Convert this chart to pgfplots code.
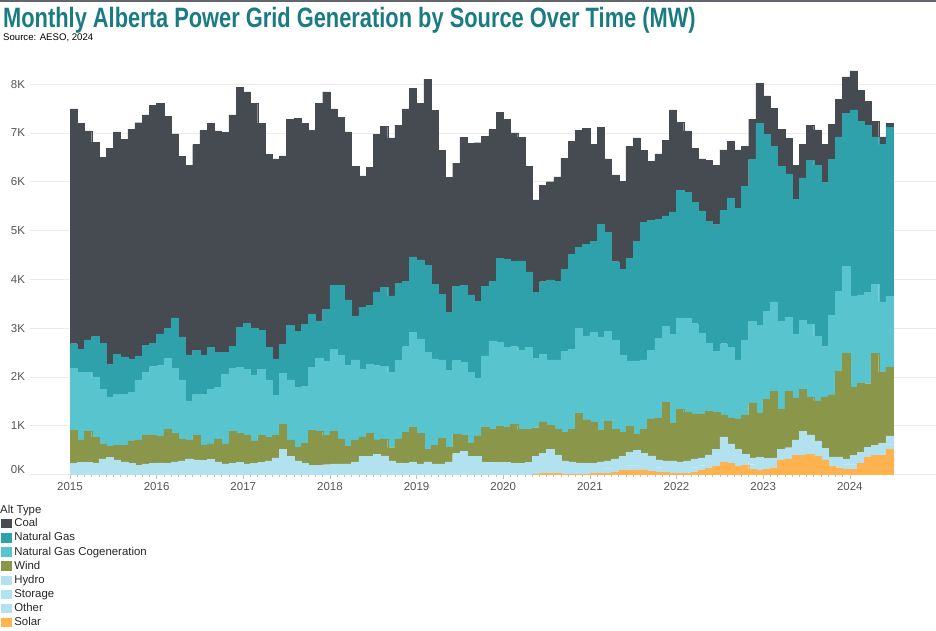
\documentclass[border=0pt]{standalone}
\usepackage{fontspec}
\setmainfont{Liberation Sans}
\newfontfamily\titlefont[FakeStretch=0.78]{Liberation Sans}
\usepackage{pgfplots}
\usepackage{pgfplotstable}
\pgfplotsset{compat=1.18}

\definecolor{coal}{HTML}{464A51}
\definecolor{ng}{HTML}{2EA1AB}
\definecolor{cogen}{HTML}{58C4CE}
\definecolor{wind}{HTML}{8A9649}
\definecolor{hydro}{HTML}{B2E2EF}
\definecolor{solar}{HTML}{FFB24E}
\definecolor{titlecol}{HTML}{1A7B83}
\definecolor{tickgray}{HTML}{555555}
\definecolor{gridgray}{HTML}{EBEBEB}

% month index (0 = Jan 2015), values in MW
\pgfplotstableread{
m solar other storage hydro wind cogen ng coal
0 0 80 0 150 680 1270 500 4810
1 0 80 0 170 460 1380 480 4630
2 0 80 0 170 640 1210 660 4280
3 0 80 0 150 530 1240 830 3980
4 0 80 0 240 310 1120 940 3810
5 0 80 0 270 230 1010 660 4430
6 0 80 0 220 300 1040 820 4560
7 0 80 0 180 340 1040 770 4460
8 0 80 0 150 460 1000 680 4710
9 0 80 0 110 520 1230 490 4780
10 0 80 0 140 580 1300 550 4720
11 0 80 0 150 580 1400 480 4880
12 0 80 0 160 550 1440 650 4720
13 0 80 0 150 700 1450 610 4350
14 0 80 0 180 580 1340 1030 3770
15 0 80 0 200 450 1210 880 3700
16 0 80 0 240 390 800 940 3890
17 0 80 0 220 500 840 910 4210
18 0 80 0 210 310 1040 810 4600
19 0 80 0 230 320 1120 860 4590
20 0 80 0 180 470 1060 710 4540
21 0 80 0 140 410 1430 440 4510
22 0 80 0 150 660 1290 450 4740
23 0 80 0 170 600 1350 820 4910
24 0 80 0 140 590 1340 950 4740
25 0 80 0 150 460 1350 950 4620
26 0 80 0 170 550 1360 800 4240
27 0 80 0 200 480 1180 670 3950
28 0 80 0 260 460 820 750 4100
29 0 80 0 440 510 1050 590 3860
30 0 80 0 290 340 1230 1120 4220
31 0 80 0 200 280 1230 1150 4360
32 0 80 0 150 410 1170 1270 4120
33 0 80 0 110 720 1290 1090 3760
34 0 80 0 110 690 1510 760 4460
35 0 80 0 120 600 1530 1060 4450
36 0 80 0 140 670 1680 1310 3610
37 0 80 0 140 510 1720 1430 3440
38 0 80 0 140 360 1660 1340 3440
39 0 80 0 180 440 1650 900 3060
40 0 80 0 290 400 1380 1280 2690
41 0 80 0 290 470 1420 1210 2830
42 0 80 0 340 290 1520 1510 3230
43 0 80 0 300 350 1490 1620 3290
44 0 80 0 200 270 1540 1570 3240
45 0 80 0 160 490 1610 1580 3240
46 0 80 0 150 640 1750 1340 3530
47 0 80 0 180 710 1940 1550 3450
48 0 80 0 140 630 1930 1620 3210
49 0 80 0 180 260 1990 1780 3810
50 0 80 0 140 380 1770 1530 3560
51 0 80 0 140 520 1610 1340 2950
52 0 80 0 180 300 1570 1200 2760
53 0 80 0 350 400 1510 1520 2520
54 0 80 0 400 320 1510 1570 3030
55 0 80 0 290 280 1450 1580 3110
56 0 80 0 290 420 1190 1570 3250
57 0 80 0 180 710 1460 1430 3070
58 0 80 0 170 670 1820 1220 3110
59 0 80 0 170 740 1720 1720 2990
60 0 80 10 160 720 1640 1800 2870
61 0 80 10 140 800 1590 1750 2630
62 0 80 10 140 690 1620 1840 2530
63 0 80 10 160 670 1690 1540 2170
64 10 80 10 270 590 1420 1350 1900
65 20 80 10 330 640 1380 1490 1980
66 20 80 10 410 490 1340 1640 2010
67 20 80 10 290 520 1430 1610 2140
68 10 80 10 180 580 1670 1680 2270
69 10 80 10 160 660 1650 1940 2320
70 10 80 10 140 1020 1740 1660 2390
71 10 80 10 130 890 1720 1880 2370
72 20 80 10 120 850 1830 1870 1990
73 20 80 10 150 650 1910 2310 1980
74 30 80 10 160 820 1840 2020 1510
75 40 80 10 190 610 1830 1600 1780
76 80 80 10 200 500 1580 1760 1800
77 90 80 10 280 530 1340 2100 2300
78 90 80 10 320 330 1500 2450 2120
79 80 80 10 260 490 1430 2820 1470
80 60 80 10 230 760 1410 2660 1210
81 50 80 10 160 860 1630 2440 1340
82 40 80 10 150 1210 1550 2260 1550
83 20 80 10 170 770 1820 2510 2090
84 20 80 10 150 1080 1870 2610 1400
85 20 80 10 170 1000 1920 2580 1260
86 50 80 10 180 920 1850 2490 1110
87 90 80 10 160 900 1660 2500 1070
88 130 80 10 180 900 1390 2500 1250
89 170 80 10 260 760 1250 2590 1220
90 260 80 10 420 450 1460 2730 1240
91 230 80 10 310 530 1450 3060 1160
92 170 80 10 260 620 1210 3100 1200
93 190 80 10 130 810 1540 3140 820
94 110 80 10 140 1130 1670 3320 820
95 80 80 10 180 910 1800 4140 820
96 100 80 10 140 1210 1810 3620 790
97 140 80 10 110 1370 1830 3190 780
98 300 80 10 130 820 1800 3170 770
99 320 80 10 140 1160 1510 2940 730
100 390 80 10 230 860 1300 2770 700
101 400 80 10 400 860 1410 2920 690
102 410 80 10 310 780 1490 3360 710
103 370 80 10 230 820 1320 3510 720
104 300 80 10 150 1050 1030 3360 780
105 170 80 10 100 1270 1640 3190 710
106 140 80 10 130 1760 1630 3170 770
107 110 80 10 120 2170 1780 3130 750
108 110 80 10 190 1400 1870 3810 800
109 230 80 10 130 1420 1810 3560 630
110 350 80 10 120 1300 1870 3430 490
111 390 80 10 120 1880 1420 3020 320
112 390 80 10 170 1440 1450 3220 160
113 520 80 10 180 1410 1450 3470 80
}\gendata

\begin{document}
\begin{tikzpicture}
\useasboundingbox (0pt,0pt) rectangle (936pt,630pt);
\draw[color=coal!85, line width=1.5pt] (0pt,629.2pt) -- (936pt,629.2pt);
\node[anchor=base west, inner sep=0pt, text=titlecol, font=\titlefont\bfseries\fontsize{28}{30}\selectfont] at (3pt,602pt) {Monthly Alberta Power Grid Generation by Source Over Time (MW)};
\node[anchor=base west, inner sep=0pt, text=black, font=\fontsize{9.6}{11}\selectfont] at (3pt,589pt) {Source: AESO, 2024};
\node[anchor=base west, inner sep=0pt, text=black!85, font=\fontsize{11.4}{13}\selectfont] at (0pt,116.9pt) {Alt Type};

\begin{axis}[
  at={(30pt,155.5pt)}, anchor=south west,
  scale only axis, width=906pt, height=414.5pt,
  ybar stacked, bar width=1,
  xmin=-6.04, xmax=119.44, ymin=0, ymax=8494,
  enlargelimits=false,
  axis x line*=bottom, axis y line*=left,
  x axis line style={draw=gridgray, line width=0.8pt},
  y axis line style={draw=none},
  xtick={-0.5,11.5,...,107.5},
  xticklabels={2015,2016,2017,2018,2019,2020,2021,2022,2023,2024},
  minor x tick num=11,
  xtick align=outside,
  major tick length=4pt, minor tick length=2pt,
  xtick style={draw=black!25, line width=0.6pt},
  minor tick style={draw=black!15},
  ytick={0,1000,...,8000},
  yticklabels={\raisebox{11pt}{0K},1K,2K,3K,4K,5K,6K,7K,8K},
  ytick style={draw=none},
  ymajorgrids, grid style={draw=gridgray, line width=0.8pt},
  ticklabel style={font=\fontsize{11.5}{13}\selectfont, text=tickgray},
  yticklabel style={xshift=-1.5pt},
  /pgf/number format/assume math mode=true,
  reverse legend,
  legend cell align=left,
  legend style={at={(axis description cs:-0.032,-0.1037)}, anchor=north west,
    draw=none, fill=none, inner sep=0pt, outer sep=0pt,
    font=\fontsize{11.4}{13}\selectfont, text=black!85, row sep=0pt,
    nodes={inner sep=0pt, text height=9.3pt, text depth=4.85pt},
    /tikz/every odd column/.append style={column sep=3.5pt},
    /tikz/every even column/.append style={column sep=2pt}},
  every axis plot post/.append style={legend image code/.code={\fill[##1] (0pt,-3pt) rectangle (9.5pt,5.5pt);}},
]
\addplot[fill=solar, draw=solar, line width=0.3pt] table[x=m, y=solar] {\gendata};
\addlegendentry{Solar}
\addplot[fill=hydro, draw=hydro, line width=0.3pt] table[x=m, y=other] {\gendata};
\addlegendentry{Other}
\addplot[fill=hydro, draw=hydro, line width=0.3pt] table[x=m, y=storage] {\gendata};
\addlegendentry{Storage}
\addplot[fill=hydro, draw=hydro, line width=0.3pt] table[x=m, y=hydro] {\gendata};
\addlegendentry{Hydro}
\addplot[fill=wind, draw=wind, line width=0.3pt] table[x=m, y=wind] {\gendata};
\addlegendentry{Wind}
\addplot[fill=cogen, draw=cogen, line width=0.3pt] table[x=m, y=cogen] {\gendata};
\addlegendentry{Natural Gas Cogeneration}
\addplot[fill=ng, draw=ng, line width=0.3pt] table[x=m, y=ng] {\gendata};
\addlegendentry{Natural Gas}
\addplot[fill=coal, draw=coal, line width=0.3pt] table[x=m, y=coal] {\gendata};
\addlegendentry{Coal}
\end{axis}
\end{tikzpicture}
\end{document}
